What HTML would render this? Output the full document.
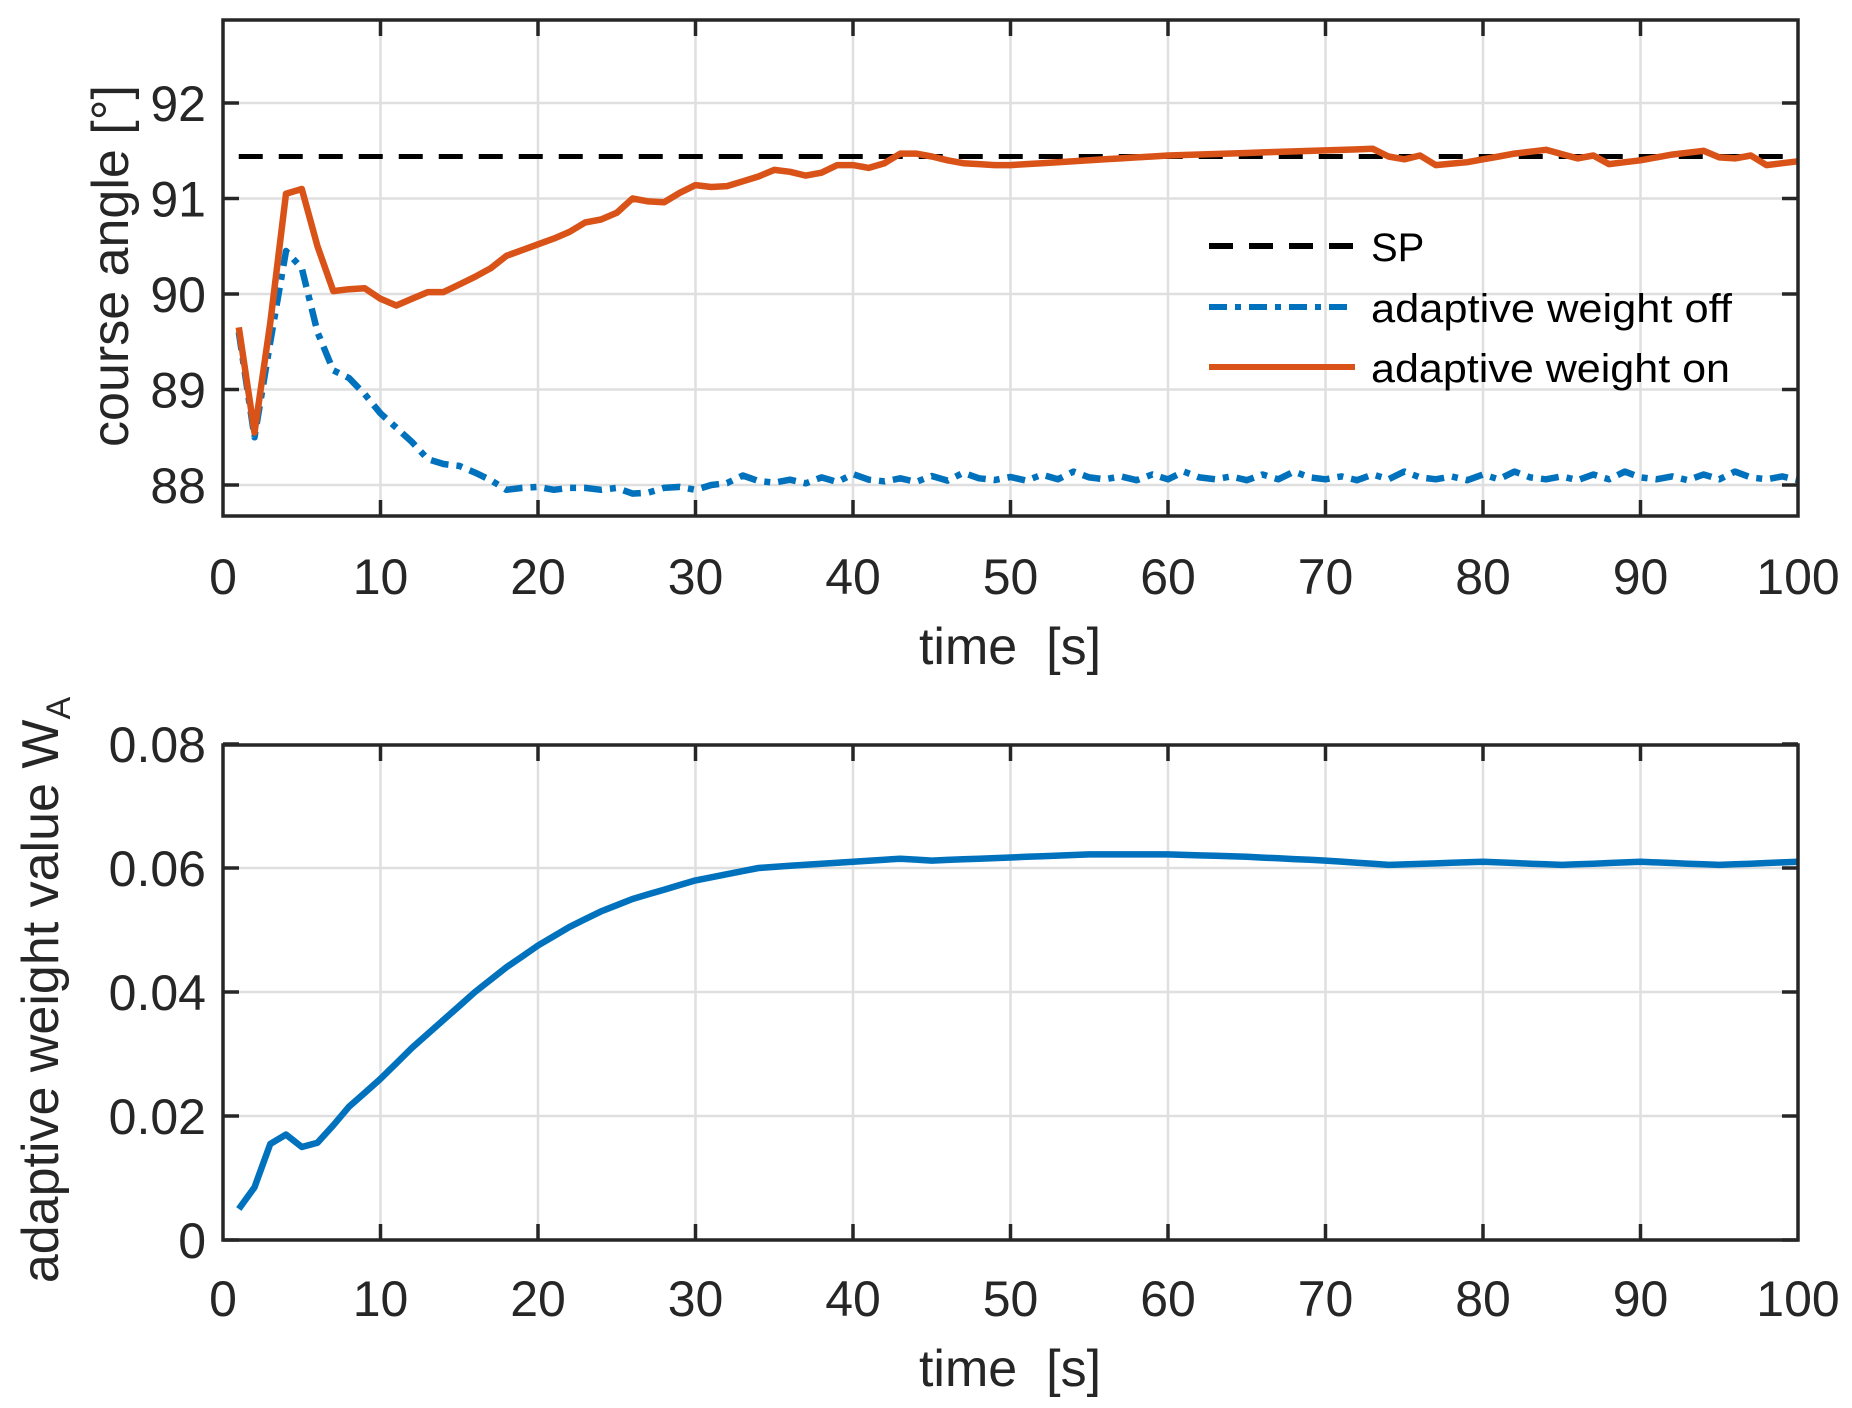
<!DOCTYPE html>
<html><head><meta charset="utf-8"><style>
html,body{margin:0;padding:0;background:#fff;}
svg{display:block;font-family:"Liberation Sans",Arial,sans-serif;}
</style></head><body>
<svg id="s" width="1852" height="1408" viewBox="0 0 1852 1408" xmlns="http://www.w3.org/2000/svg">
<rect width="1852" height="1408" fill="#fff"/>
<g id="g"></g>
<!-- legend -->
<line x1="1209" y1="246" x2="1355" y2="246" stroke="#000" stroke-width="6" stroke-dasharray="24,16"/>
<line x1="1209" y1="307" x2="1355" y2="307" stroke="#0072BD" stroke-width="6" stroke-dasharray="18,8,6,8"/>
<line x1="1209" y1="367" x2="1355" y2="367" stroke="#D95319" stroke-width="6"/>
<g font-size="40" fill="#000">
<text x="1371" y="261">SP</text>
<text x="1371" y="322" textLength="361" lengthAdjust="spacingAndGlyphs">adaptive weight off</text>
<text x="1371" y="382" textLength="359" lengthAdjust="spacingAndGlyphs">adaptive weight on</text>
</g>
<g font-size="52" fill="#262626" text-anchor="middle" style="white-space:pre">
<text x="1010" y="664" xml:space="preserve">time  [s]</text>
<text x="1010" y="1386" xml:space="preserve">time  [s]</text>
<text transform="translate(128,266) rotate(-90)">course angle [°]</text>
<text transform="translate(58,990) rotate(-90)">adaptive weight value W<tspan font-size="34" dy="12">A</tspan></text>
</g>
</svg>
<script>
const g=document.getElementById('g');const NS='http://www.w3.org/2000/svg';
function el(t,a,txt){const e=document.createElementNS(NS,t);for(const k in a)e.setAttribute(k,a[k]);if(txt!==undefined)e.textContent=txt;g.appendChild(e);return e;}
const X=t=>223+15.75*t;
const L=223,R=1798;
function axes(top,bot,yt,yf){
  for(let i=1;i<10;i++)el('line',{x1:X(i*10),x2:X(i*10),y1:top,y2:bot,stroke:'#dfdfdf','stroke-width':2.5});
  yt.forEach(v=>el('line',{x1:L,x2:R,y1:yf(v),y2:yf(v),stroke:'#dfdfdf','stroke-width':2.5}));
}
function frame(top,bot,yt,yf,lab,tly){
  el('rect',{x:L,y:top,width:R-L,height:bot-top,fill:'none',stroke:'#262626','stroke-width':3.5});
  for(let i=1;i<10;i++){el('line',{x1:X(i*10),x2:X(i*10),y1:top,y2:top+16,stroke:'#262626','stroke-width':3.5});el('line',{x1:X(i*10),x2:X(i*10),y1:bot,y2:bot-16,stroke:'#262626','stroke-width':3.5});}
  yt.forEach((v,i)=>{const y=yf(v);el('line',{x1:L,x2:L+16,y1:y,y2:y,stroke:'#262626','stroke-width':3.5});el('line',{x1:R,x2:R-16,y1:y,y2:y,stroke:'#262626','stroke-width':3.5});
    el('text',{x:206,y:y+18,'font-size':50,fill:'#262626','text-anchor':'end'},lab[i]);});
  for(let i=0;i<=10;i++)el('text',{x:X(i*10),y:tly,'font-size':50,fill:'#262626','text-anchor':'middle'},String(i*10));
}
const Yt=v=>485-(v-88)*95.5;
const Yb=w=>1240-w*6200;
axes(20,516,[88,89,90,91,92],Yt);
axes(745,1240,[0.02,0.04,0.06],Yb);
function interp(keys){const o=[];for(let k=0;k<keys.length-1;k++){const[a,va]=keys[k],[b,vb]=keys[k+1];for(let t=a;t<b;t++)o.push([t,va+(vb-va)*(t-a)/(b-a)]);}o.push(keys[keys.length-1]);return o;}
const on=[[1,89.65],[2,88.55],[3,89.7],[4,91.05],[5,91.1],[6,90.5],[7,90.03],[8,90.05],[9,90.06],[10,89.95],[11,89.88],[12,89.95],[13,90.02],[14,90.02],[15,90.1],[16,90.18],[17,90.27],[18,90.4],[19,90.46],[20,90.52],[21,90.58],[22,90.65],[23,90.75],[24,90.78],[25,90.85],[26,91.0],[27,90.97],[28,90.96],[29,91.06],[30,91.14],[31,91.12],[32,91.13],[33,91.18],[34,91.23],[35,91.3],[36,91.28],[37,91.24],[38,91.27],[39,91.35],[40,91.35],[41,91.32],[42,91.37],[43,91.47],[44,91.47],[45,91.44],[46,91.4],[47,91.37],[48,91.36],[49,91.35],[50,91.35],[60,91.45],[73,91.52],[74,91.44],[75,91.41],[76,91.45],[77,91.35],[79,91.38],[82,91.47],[84,91.51],[86,91.42],[87,91.45],[88,91.36],[90,91.4],[92,91.46],[94,91.5],[95,91.43],[96,91.42],[97,91.45],[98,91.35],[100,91.39]];
const off=[[1,89.6],[2,88.5],[3,89.5],[4,90.45],[5,90.27],[6,89.6],[7,89.2],[8,89.12],[9,88.95],[10,88.75],[11,88.6],[12,88.45],[13,88.27],[14,88.22],[15,88.2],[16,88.13],[17,88.05],[18,87.95],[19,87.97],[20,87.98],[21,87.95],[22,87.97],[23,87.97],[24,87.95],[25,87.97],[26,87.91],[27,87.92],[28,87.97],[29,87.98],[30,87.95],[31,88.0],[32,88.02]];
for(let t=33;t<=100;t++){const ph=[0,0.03,-0.01,0.05,0.0,0.08,0.02][t%7];off.push([t,88.02+ph+0.04*Math.min(1,(t-33)/20)]);}
const Wk=[[1,0.005],[2,0.0085],[3,0.0155],[4,0.017],[5,0.015],[6,0.0157],[7,0.0185],[8,0.0215],[10,0.026],[12,0.031],[14,0.0355],[16,0.04],[18,0.044],[20,0.0475],[22,0.0505],[24,0.053],[26,0.055],[28,0.0565],[30,0.058],[32,0.059],[34,0.06],[38,0.0607],[40,0.061],[43,0.0615],[45,0.0612],[50,0.0617],[55,0.0622],[60,0.0622],[65,0.0618],[70,0.0612],[74,0.0605],[80,0.061],[85,0.0605],[90,0.061],[95,0.0605],[100,0.061]];
const pts=(a,f)=>a.map(([t,v])=>X(t).toFixed(1)+','+f(v).toFixed(1)).join(' ');
el('line',{x1:X(1),x2:X(100),y1:Yt(91.44),y2:Yt(91.44),stroke:'#000','stroke-width':5,'stroke-dasharray':'24,16'});
el('polyline',{points:pts(off,Yt),fill:'none',stroke:'#0072BD','stroke-width':6.5,'stroke-dasharray':'18,8,6,8','stroke-linejoin':'round'});
el('polyline',{points:pts(interp(on),Yt),fill:'none',stroke:'#D95319','stroke-width':6.5,'stroke-linejoin':'round'});
el('polyline',{points:pts(interp(Wk),Yb),fill:'none',stroke:'#0072BD','stroke-width':6.5,'stroke-linejoin':'round'});
frame(20,516,[88,89,90,91,92],Yt,['88','89','90','91','92'],594);
frame(745,1240,[0,0.02,0.04,0.06,0.08],Yb,['0','0.02','0.04','0.06','0.08'],1316);
</script>
</body></html>
